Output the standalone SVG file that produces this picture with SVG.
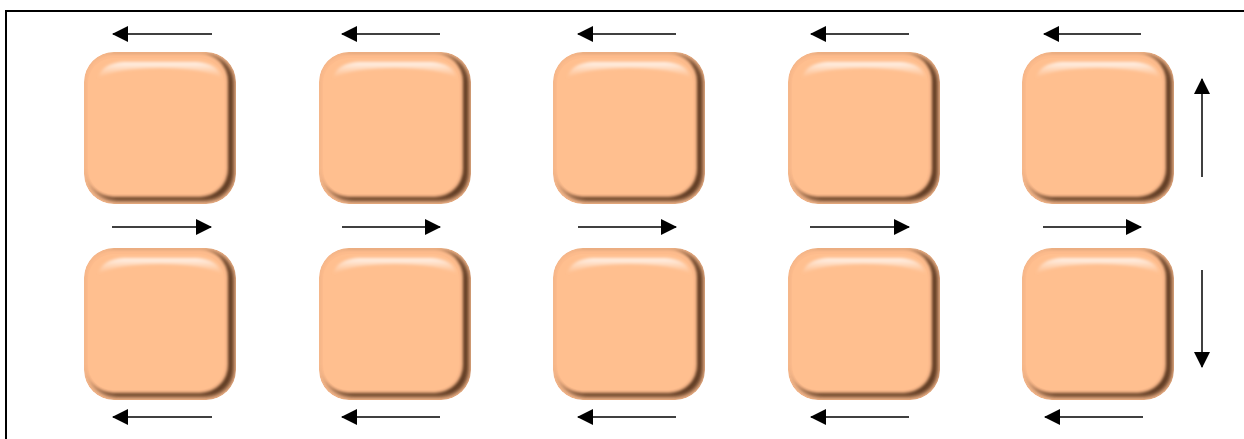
<svg xmlns="http://www.w3.org/2000/svg" xmlns:xlink="http://www.w3.org/1999/xlink" width="1244" height="439" viewBox="0 0 1244 439">
  <style>
    .frame { fill: none; stroke: #000; stroke-width: 2; }
    .flow { stroke: #000; stroke-width: 1.5; fill: none; marker-end: url(#head); }
  </style>
  <defs>
    <marker id="head" viewBox="0 0 16 16" refX="15" refY="8" markerWidth="16" markerHeight="16" markerUnits="userSpaceOnUse" orient="auto">
      <path d="M0,0 L16,8 L0,16 Z" fill="#000"/>
    </marker>
    <filter id="soft" x="-20%" y="-20%" width="140%" height="140%">
      <feGaussianBlur stdDeviation="2.2"/>
    </filter>
    <filter id="softer" x="-20%" y="-20%" width="140%" height="140%">
      <feGaussianBlur stdDeviation="1.6"/>
    </filter>
    <linearGradient id="shine" x1="0" y1="0" x2="0" y2="1">
      <stop offset="0" stop-color="#ffffff" stop-opacity="0.85"/>
      <stop offset="1" stop-color="#ffe8d6" stop-opacity="0"/>
    </linearGradient>
    <clipPath id="tileClip">
      <rect x="0" y="0" width="152" height="152" rx="30"/>
    </clipPath>
    <!-- bevelled peach tile -->
    <g id="tile">
      <g clip-path="url(#tileClip)">
        <rect x="0" y="0" width="152" height="152" rx="30" fill="#f3b68b"/>
        <rect x="5" y="3" width="145" height="146" rx="28" fill="#5e3a22" filter="url(#soft)"/>
        <rect x="1" y="1" width="143" height="144" rx="28" fill="#fdbb8c" filter="url(#softer)"/>
        <rect x="4" y="6" width="136" height="136" rx="25" fill="#ffbf8f"/>
        <path d="M14,26 Q18,11 40,10 L112,10 Q134,11 138,26 Q120,16 76,16 Q32,16 14,26 Z" fill="url(#shine)" filter="url(#softer)"/>
      </g>
    </g>
  </defs>

  <rect width="1244" height="439" fill="#fff"/>
  <path class="frame" d="M1244,11 L6,11 L6,439"/>

  <g id="node-r1c1"><use xlink:href="#tile" x="84" y="52"/></g>
  <g id="node-r1c2"><use xlink:href="#tile" x="319" y="52"/></g>
  <g id="node-r1c3"><use xlink:href="#tile" x="553" y="52"/></g>
  <g id="node-r1c4"><use xlink:href="#tile" x="788" y="52"/></g>
  <g id="node-r1c5"><use xlink:href="#tile" x="1022" y="52"/></g>
  <g id="node-r2c1"><use xlink:href="#tile" x="84" y="248"/></g>
  <g id="node-r2c2"><use xlink:href="#tile" x="319" y="248"/></g>
  <g id="node-r2c3"><use xlink:href="#tile" x="553" y="248"/></g>
  <g id="node-r2c4"><use xlink:href="#tile" x="788" y="248"/></g>
  <g id="node-r2c5"><use xlink:href="#tile" x="1022" y="248"/></g>

  <g id="connectors">
    <!-- top row: leftward -->
    <line class="flow" x1="212" y1="34" x2="113" y2="34"/>
    <line class="flow" x1="440" y1="34" x2="342" y2="34"/>
    <line class="flow" x1="676" y1="34" x2="578" y2="34"/>
    <line class="flow" x1="909" y1="34" x2="811" y2="34"/>
    <line class="flow" x1="1141" y1="34" x2="1044" y2="34"/>
    <!-- between rows: rightward -->
    <line class="flow" x1="112" y1="227" x2="211" y2="227"/>
    <line class="flow" x1="342" y1="227" x2="440" y2="227"/>
    <line class="flow" x1="578" y1="227" x2="676" y2="227"/>
    <line class="flow" x1="810" y1="227" x2="909" y2="227"/>
    <line class="flow" x1="1043" y1="227" x2="1141" y2="227"/>
    <!-- bottom row: leftward -->
    <line class="flow" x1="212" y1="417" x2="113" y2="417"/>
    <line class="flow" x1="440" y1="417" x2="342" y2="417"/>
    <line class="flow" x1="676" y1="417" x2="578" y2="417"/>
    <line class="flow" x1="909" y1="417" x2="811" y2="417"/>
    <line class="flow" x1="1143" y1="417" x2="1045" y2="417"/>
    <!-- right side -->
    <line class="flow" x1="1202" y1="177" x2="1202" y2="79"/>
    <line class="flow" x1="1202" y1="270" x2="1202" y2="367"/>
  </g>
</svg>
